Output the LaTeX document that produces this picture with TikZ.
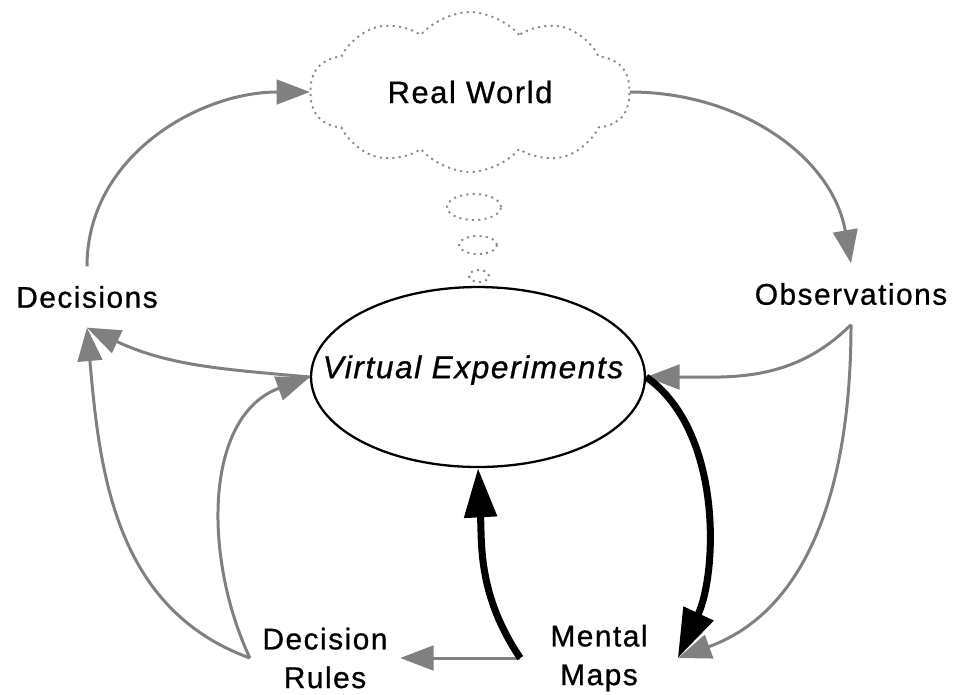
\documentclass[tikz,border=0pt]{standalone}
\usepackage{fontspec}
\setmainfont{Liberation Sans}[LetterSpace=5, FakeBold=0.8]
\usetikzlibrary{arrows.meta,shapes.symbols,shapes.geometric}
\definecolor{loopgray}{RGB}{128, 128, 128}
\definecolor{cloudgray}{RGB}{140, 140, 140}

\begin{document}
\begin{tikzpicture}[x=0.02cm, y=0.02cm,
    stage/.style={font=\fontsize{17}{22}\selectfont, inner xsep=4pt, inner ysep=11pt, align=center},
    thought/.style={draw=cloudgray, line width=1.1pt, dash pattern=on 1.2pt off 2.4pt},
    thinloop/.style={draw=loopgray, line width=1.7pt, -{Triangle[length=19pt, width=14pt]}},
    thickloop/.style={draw=black, line width=4pt, -{Triangle[length=28pt, width=18pt]}}]
    \useasboundingbox (0,0) rectangle (955,-694);
    % Real World and thought bubbles
    \node[thought, cloud, cloud puffs=10, cloud puff arc=100, cloud ignores aspect,
          minimum width=6.4cm, minimum height=3.2cm,
          font=\fontsize{17.6}{22}\selectfont] (world) at (470,-92) {Real World};
    \draw[thought] (474,-207) ellipse [x radius=0.54cm, y radius=0.26cm];
    \draw[thought] (478,-245) ellipse [x radius=0.38cm, y radius=0.18cm];
    \draw[thought] (479,-276) ellipse [x radius=0.20cm, y radius=0.12cm];
    % Virtual world
    \node[draw, ellipse, line width=1.3pt, inner sep=0pt,
          minimum width=6.68cm, minimum height=3.6cm] (virtual) at (478,-377) {};
    \node[font=\fontsize{18}{22}\selectfont\itshape] (experiments) at (473,-370) {Virtual Experiments};
    % Stages
    \node[stage] (decisions)    at ( 87,-297) {Decisions};
    \node[stage] (observations) at (851,-294) {Observations};
    \node[stage, inner xsep=7pt]  (rules) at (325,-658) {Decision\\Rules};
    \node[stage, inner xsep=17pt] (maps)  at (599,-658) {Mental\\Maps};
    % Outer loop
    \draw[thinloop] (decisions.north) to[out=90, in=180] (world.west);
    \draw[thinloop] (world.east) to[out=0, in=100] (observations.north);
    % Feedback to the stages
    \draw[thinloop] (virtual.west) to[out=175, in=-25] (decisions.south);
    \draw[thinloop] (rules.west) to[out=160, in=-85] (decisions.south);
    \draw[thinloop] (rules.west) to[out=115, in=200] (virtual.west);
    \draw[thinloop] (observations.south) to[out=225, in=0] (virtual.east);
    \draw[thinloop] (observations.south) to[out=-90, in=20] (maps.east);
    \draw[thinloop] (maps.west) -- (rules.east);
    % Virtual loop
    \draw[thickloop] (maps.west) to[out=124, in=-87] (virtual.south);
    \draw[thickloop] (virtual.east) to[out=-35, in=65, looseness=0.85] (maps.east);
\end{tikzpicture}
\end{document}
